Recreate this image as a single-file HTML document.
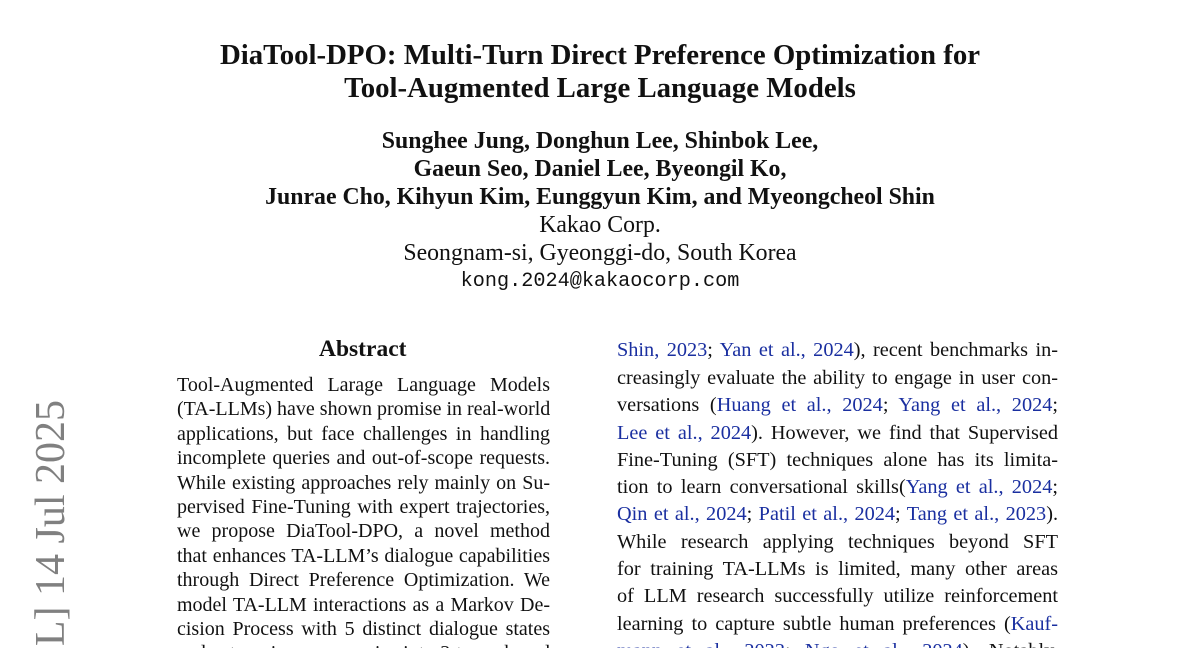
<!DOCTYPE html>
<html><head><meta charset="utf-8"><style>
html,body{margin:0;width:1200px;height:648px;overflow:hidden}
body{background:#fff;font-family:"Liberation Serif",serif;color:#111}
#w{position:relative;width:1200px;height:648px;overflow:hidden}
.c{position:absolute;left:0;width:1200px;text-align:center;white-space:nowrap}
.t{font-weight:bold;font-size:28.8px}
.a{font-weight:bold;font-size:23.8px}
.n{font-size:23.8px}
.l{position:absolute;white-space:nowrap;text-align:justify;text-align-last:justify}
.L{left:177px;width:373px;font-size:20px}
.R{left:617px;width:441px;font-size:20.3px}
.b{color:#1a2fa0}
</style></head><body><div id="w">
<div class="c t" style="top:39px">DiaTool-DPO: Multi-Turn Direct Preference Optimization for</div>
<div class="c t" style="top:72px">Tool-Augmented Large Language Models</div>
<div class="c a" style="top:128px">Sunghee Jung, Donghun Lee, Shinbok Lee,</div>
<div class="c a" style="top:156px">Gaeun Seo, Daniel Lee, Byeongil Ko,</div>
<div class="c a" style="top:184px">Junrae Cho, Kihyun Kim, Eunggyun Kim, and Myeongcheol Shin</div>
<div class="c n" style="top:212px">Kakao Corp.</div>
<div class="c n" style="top:240px">Seongnam-si, Gyeonggi-do, South Korea</div>
<div class="c" style="top:270px;font-family:'Liberation Mono',monospace;font-size:20.2px">kong.2024@kakaocorp.com</div>
<div style="position:absolute;left:319px;top:336px;font-weight:bold;font-size:23.5px">Abstract</div>

<div style="position:absolute;left:28px;top:648px;width:248px;height:46px;overflow:hidden;transform:rotate(-90deg);transform-origin:0 0;text-align:right;font-size:42px;color:#808080;white-space:nowrap;line-height:46px"><span style="float:right">arXiv:2504.02882v2 [cs.CL] 14 Jul 2025</span></div>

<div class="l L" style="top:374px">Tool-Augmented Larage Language Models</div>
<div class="l L" style="top:398px">(TA-LLMs) have shown promise in real-world</div>
<div class="l L" style="top:423px">applications, but face challenges in handling</div>
<div class="l L" style="top:447px">incomplete queries and out-of-scope requests.</div>
<div class="l L" style="top:472px">While existing approaches rely mainly on Su-</div>
<div class="l L" style="top:496px">pervised Fine-Tuning with expert trajectories,</div>
<div class="l L" style="top:520px">we propose DiaTool-DPO, a novel method</div>
<div class="l L" style="top:545px">that enhances TA-LLM’s dialogue capabilities</div>
<div class="l L" style="top:569px">through Direct Preference Optimization. We</div>
<div class="l L" style="top:594px">model TA-LLM interactions as a Markov De-</div>
<div class="l L" style="top:618px">cision Process with 5 distinct dialogue states</div>
<div class="l L" style="top:642px">and categorize user queries into 3 types based</div>

<div class="l R" style="top:339px"><span class="b">Shin, 2023</span>; <span class="b">Yan et al., 2024</span>), recent benchmarks in-</div>
<div class="l R" style="top:367px">creasingly evaluate the ability to engage in user con-</div>
<div class="l R" style="top:394px">versations (<span class="b">Huang et al., 2024</span>; <span class="b">Yang et al., 2024</span>;</div>
<div class="l R" style="top:422px"><span class="b">Lee et al., 2024</span>). However, we find that Supervised</div>
<div class="l R" style="top:449px">Fine-Tuning (SFT) techniques alone has its limita-</div>
<div class="l R" style="top:476px">tion to learn conversational skills(<span class="b">Yang et al., 2024</span>;</div>
<div class="l R" style="top:503px"><span class="b">Qin et al., 2024</span>; <span class="b">Patil et al., 2024</span>; <span class="b">Tang et al., 2023</span>).</div>
<div class="l R" style="top:531px">While research applying techniques beyond SFT</div>
<div class="l R" style="top:558px">for training TA-LLMs is limited, many other areas</div>
<div class="l R" style="top:585px">of LLM research successfully utilize reinforcement</div>
<div class="l R" style="top:613px">learning to capture subtle human preferences (<span class="b">Kauf-</span></div>
<div class="l R" style="top:640px"><span class="b">mann et al., 2023</span>; <span class="b">Ngo et al., 2024</span>). Notably,</div>
</div></body></html>
